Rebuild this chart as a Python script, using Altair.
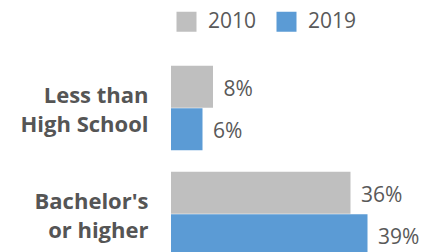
import altair as alt
import pandas as pd

categories = ["Less than|High School", "Bachelor's|or higher"]
years = ["2010", "2019"]
values_2010 = [8.4, 35.9]
values_2019 = [6.3, 39.3]

rows = []
for i, c in enumerate(categories):
    for y, vals in zip(years, [values_2010, values_2019]):
        rows.append({"cat": c, "year": y, "value": vals[i],
                     "label": f"{round(vals[i])}%"})
df = pd.DataFrame(rows)

colors = ["#BFBFBF", "#5B9BD5"]
FONT = "Open Sans"
TXT = "#595959"

y_enc = alt.Y("cat:N", sort=categories, title=None,
              scale=alt.Scale(paddingInner=0.2, paddingOuter=0.1),
              axis=alt.Axis(labelExpr="split(datum.value, '|')", labelFontSize=22,
                            labelFontWeight="bold", labelColor="#555555", labelFont=FONT,
                            labelLineHeight=29, labelPadding=23, ticks=False, domain=False,
                            labelAlign="right", labelBaseline="middle", labelOffset=-12))
yoff = alt.YOffset("year:N", sort=years)

base = alt.Chart(df).encode(y=y_enc, yOffset=yoff)

bars = base.mark_bar(size=42).encode(
    x=alt.X("value:Q", scale=alt.Scale(domain=[0, 48], nice=False), axis=None),
    color=alt.Color("year:N", sort=years, scale=alt.Scale(domain=years, range=colors),
                    legend=alt.Legend(title=None, orient="none", direction="horizontal",
                                      legendX=5, legendY=-44, symbolType="square",
                                      symbolSize=400, symbolStrokeWidth=0,
                                      labelFontSize=21, labelColor=TXT, labelFont=FONT,
                                      labelOffset=11, columnPadding=19)),
)

text = base.mark_text(align="left", baseline="middle", dx=10.5, dy=3, fontSize=21,
                      font=FONT, color=TXT).encode(
    x=alt.X("value:Q"),
    text="label:N",
)

chart = (bars + text).properties(
    width=240, height=212,
    autosize=alt.AutoSizeParams(type="none"),
    padding={"left": 163, "top": 47, "right": 8, "bottom": 0},
).configure_view(stroke=None)

chart.save("out.html", embed_options={"renderer": "svg", "actions": False})
